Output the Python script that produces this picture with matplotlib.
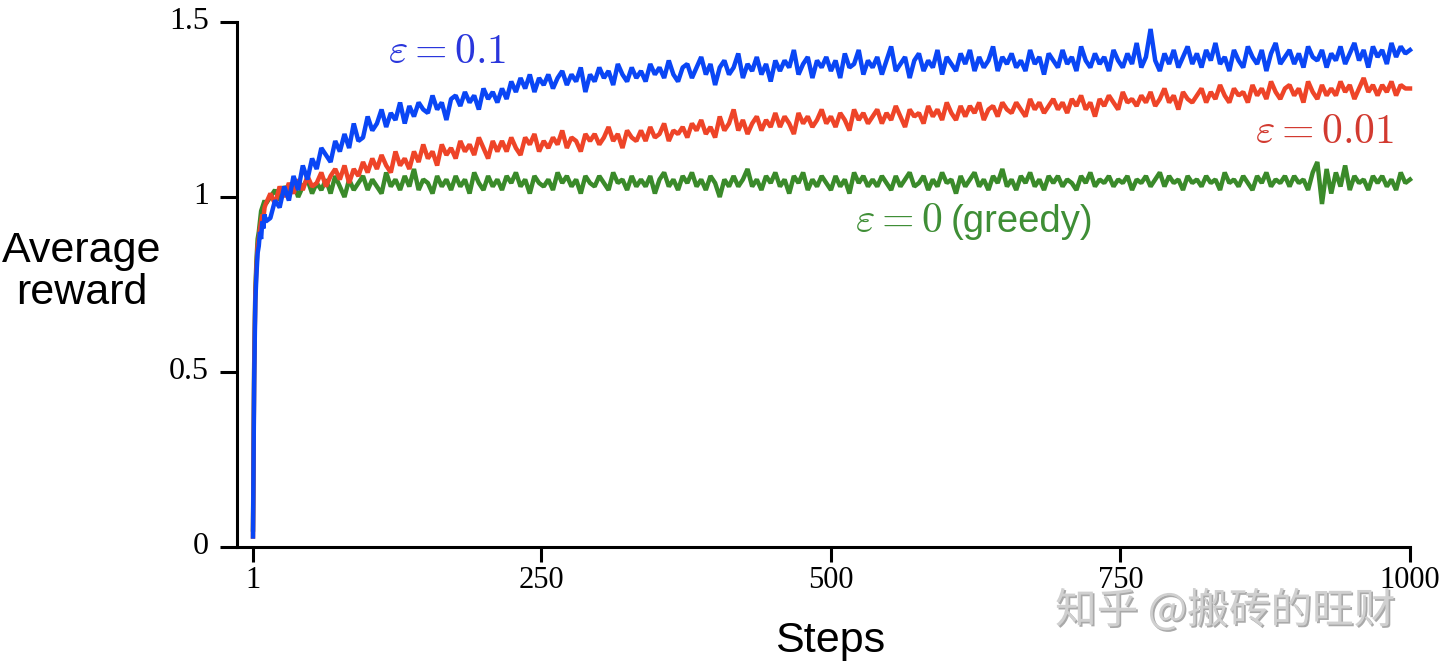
import matplotlib
matplotlib.use("Agg")
import matplotlib.pyplot as plt
import matplotlib.patheffects as pe
import matplotlib.transforms as mtransforms

# ---------------- data ----------------
early_steps = [1, 2, 3, 4, 5, 6, 7, 8, 9, 10, 11, 12]
late_steps = list(range(16, 1001, 4))
steps = early_steps + late_steps

blue_early = [0.03, 0.47, 0.70, 0.78, 0.84, 0.86, 0.90, 0.88, 0.93, 0.91, 0.95, 0.93]
red_early = [0.03, 0.50, 0.72, 0.80, 0.86, 0.88, 0.91, 0.93, 0.95, 0.94, 0.97, 0.98]
green_early = [0.05, 0.52, 0.73, 0.82, 0.88, 0.90, 0.93, 0.96, 0.97, 0.98, 0.99, 0.98]

blue_late = [
    0.94, 0.99, 0.97, 1.03, 0.99, 1.06, 1.02, 1.09, 1.05, 1.11,
    1.08, 1.14, 1.12, 1.10, 1.16, 1.13, 1.18, 1.14, 1.21, 1.16,
    1.17, 1.23, 1.19, 1.21, 1.25, 1.20, 1.24, 1.22, 1.27, 1.21,
    1.26, 1.23, 1.27, 1.25, 1.24, 1.29, 1.25, 1.27, 1.22, 1.28,
    1.29, 1.26, 1.30, 1.27, 1.29, 1.25, 1.31, 1.28, 1.30, 1.27,
    1.31, 1.28, 1.33, 1.30, 1.34, 1.31, 1.35, 1.30, 1.34, 1.32,
    1.35, 1.31, 1.34, 1.36, 1.32, 1.35, 1.33, 1.37, 1.30, 1.35,
    1.33, 1.37, 1.34, 1.36, 1.32, 1.38, 1.35, 1.33, 1.37, 1.34,
    1.36, 1.33, 1.38, 1.35, 1.37, 1.34, 1.39, 1.35, 1.33, 1.37,
    1.38, 1.34, 1.37, 1.40, 1.35, 1.38, 1.32, 1.37, 1.39, 1.35,
    1.37, 1.41, 1.34, 1.38, 1.36, 1.40, 1.35, 1.38, 1.33, 1.39,
    1.36, 1.39, 1.37, 1.42, 1.35, 1.38, 1.40, 1.34, 1.39, 1.37,
    1.40, 1.36, 1.39, 1.34, 1.41, 1.37, 1.38, 1.42, 1.35, 1.39,
    1.37, 1.40, 1.35, 1.39, 1.43, 1.36, 1.38, 1.40, 1.34, 1.39,
    1.41, 1.36, 1.39, 1.37, 1.42, 1.35, 1.40, 1.38, 1.36, 1.41,
    1.38, 1.42, 1.36, 1.40, 1.37, 1.39, 1.43, 1.36, 1.40, 1.38,
    1.41, 1.37, 1.39, 1.36, 1.42, 1.38, 1.40, 1.35, 1.41, 1.39,
    1.37, 1.42, 1.38, 1.40, 1.36, 1.43, 1.39, 1.37, 1.41, 1.38,
    1.40, 1.36, 1.42, 1.39, 1.37, 1.41, 1.38, 1.44, 1.37, 1.40,
    1.48, 1.39, 1.36, 1.41, 1.38, 1.42, 1.37, 1.40, 1.43, 1.38,
    1.41, 1.37, 1.42, 1.39, 1.44, 1.38, 1.40, 1.36, 1.42, 1.39,
    1.37, 1.43, 1.40, 1.38, 1.42, 1.36, 1.41, 1.44, 1.38, 1.40,
    1.42, 1.38, 1.41, 1.37, 1.43, 1.40, 1.39, 1.42, 1.37, 1.41,
    1.39, 1.43, 1.38, 1.41, 1.44, 1.39, 1.42, 1.37, 1.43, 1.40,
    1.42, 1.38, 1.44, 1.40, 1.43, 1.41, 1.42,
]

red_late = [
    1.01, 0.98, 1.03, 1.00, 1.04, 1.01, 1.05, 1.02, 1.06, 1.03,
    1.04, 1.07, 1.03, 1.06, 1.08, 1.05, 1.09, 1.04, 1.08, 1.06,
    1.10, 1.07, 1.11, 1.08, 1.12, 1.09, 1.07, 1.13, 1.09, 1.11,
    1.08, 1.13, 1.10, 1.15, 1.11, 1.13, 1.09, 1.15, 1.12, 1.14,
    1.11, 1.16, 1.13, 1.15, 1.12, 1.17, 1.14, 1.11, 1.16, 1.13,
    1.16, 1.13, 1.17, 1.14, 1.12, 1.17, 1.15, 1.18, 1.13, 1.16,
    1.14, 1.17, 1.15, 1.19, 1.14, 1.17, 1.16, 1.13, 1.18, 1.16,
    1.18, 1.15, 1.17, 1.20, 1.16, 1.18, 1.14, 1.19, 1.17, 1.16,
    1.19, 1.16, 1.20, 1.17, 1.18, 1.21, 1.16, 1.19, 1.18, 1.20,
    1.17, 1.21, 1.19, 1.22, 1.18, 1.20, 1.17, 1.23, 1.19, 1.21,
    1.25, 1.19, 1.22, 1.18, 1.21, 1.23, 1.19, 1.22, 1.20, 1.24,
    1.20, 1.23, 1.21, 1.18, 1.24, 1.21, 1.23, 1.20, 1.22, 1.25,
    1.21, 1.23, 1.20, 1.24, 1.22, 1.19, 1.25, 1.22, 1.24, 1.21,
    1.23, 1.25, 1.21, 1.24, 1.22, 1.26, 1.23, 1.20, 1.25, 1.23,
    1.24, 1.21, 1.26, 1.23, 1.25, 1.22, 1.27, 1.24, 1.22, 1.26,
    1.23, 1.26, 1.24, 1.27, 1.22, 1.25, 1.26, 1.23, 1.27, 1.25,
    1.24, 1.27, 1.25, 1.23, 1.28, 1.25, 1.27, 1.24, 1.26, 1.28,
    1.25, 1.27, 1.24, 1.28, 1.26, 1.29, 1.25, 1.27, 1.23, 1.28,
    1.26, 1.29, 1.27, 1.25, 1.30, 1.27, 1.28, 1.26, 1.29, 1.27,
    1.30, 1.26, 1.28, 1.31, 1.27, 1.29, 1.25, 1.30, 1.28, 1.27,
    1.29, 1.31, 1.27, 1.30, 1.28, 1.32, 1.29, 1.27, 1.31, 1.29,
    1.30, 1.27, 1.32, 1.29, 1.31, 1.28, 1.33, 1.30, 1.28, 1.31,
    1.32, 1.29, 1.31, 1.27, 1.33, 1.30, 1.28, 1.32, 1.29, 1.31,
    1.29, 1.33, 1.30, 1.32, 1.28, 1.31, 1.34, 1.30, 1.32, 1.29,
    1.32, 1.30, 1.33, 1.29, 1.32, 1.31, 1.31,
]

green_late = [
    1.00, 1.02, 0.99, 1.03, 1.01, 1.04, 1.00, 1.03, 1.05, 1.01,
    1.04, 1.02, 1.05, 1.01, 1.06, 1.03, 1.00, 1.05, 1.02, 1.04,
    1.06, 1.02, 1.05, 1.03, 1.01, 1.07, 1.03, 1.05, 1.02, 1.06,
    1.03, 1.08, 1.02, 1.05, 1.04, 1.01, 1.06, 1.03, 1.05, 1.02,
    1.06, 1.03, 1.05, 1.01, 1.07, 1.04, 1.02, 1.06, 1.03, 1.05,
    1.02, 1.06, 1.04, 1.07, 1.03, 1.05, 1.01, 1.06, 1.04, 1.03,
    1.05, 1.02, 1.07, 1.04, 1.06, 1.03, 1.05, 1.01, 1.06, 1.04,
    1.03, 1.06, 1.04, 1.02, 1.07, 1.04, 1.05, 1.02, 1.06, 1.03,
    1.05, 1.03, 1.06, 1.01, 1.05, 1.07, 1.03, 1.05, 1.02, 1.06,
    1.04, 1.07, 1.03, 1.05, 1.02, 1.06, 1.04, 1.00, 1.05, 1.03,
    1.06, 1.03, 1.05, 1.08, 1.03, 1.05, 1.02, 1.06, 1.04, 1.07,
    1.03, 1.05, 1.01, 1.06, 1.04, 1.07, 1.02, 1.05, 1.03, 1.06,
    1.04, 1.02, 1.06, 1.03, 1.05, 1.01, 1.07, 1.04, 1.06, 1.03,
    1.05, 1.03, 1.06, 1.04, 1.02, 1.06, 1.03, 1.05, 1.07, 1.03,
    1.04, 1.06, 1.02, 1.05, 1.03, 1.07, 1.04, 1.05, 1.01, 1.06,
    1.03, 1.05, 1.07, 1.03, 1.05, 1.02, 1.06, 1.04, 1.08, 1.03,
    1.05, 1.02, 1.06, 1.04, 1.07, 1.03, 1.05, 1.02, 1.06, 1.04,
    1.06, 1.03, 1.05, 1.04, 1.02, 1.06, 1.04, 1.07, 1.03, 1.05,
    1.04, 1.06, 1.03, 1.05, 1.04, 1.06, 1.02, 1.05, 1.04, 1.06,
    1.03, 1.05, 1.07, 1.03, 1.06, 1.04, 1.05, 1.02, 1.06, 1.04,
    1.05, 1.03, 1.06, 1.04, 1.05, 1.02, 1.07, 1.04, 1.05, 1.03,
    1.06, 1.04, 1.02, 1.06, 1.04, 1.07, 1.03, 1.05, 1.04, 1.06,
    1.03, 1.06, 1.04, 1.05, 1.02, 1.07, 1.10, 0.98, 1.08, 1.01,
    1.07, 1.03, 1.09, 1.02, 1.06, 1.04, 1.05, 1.02, 1.06, 1.04,
    1.06, 1.03, 1.05, 1.02, 1.07, 1.04, 1.05,
]

eps_greedy_01 = blue_early + blue_late
eps_greedy_001 = red_early + red_late
greedy = green_early + green_late

x_ticks = [1, 250, 500, 750, 1000]
x_ticklabels = ["1", "250", "500", "750", "1000"]
y_ticks = [0, 0.5, 1, 1.5]
y_ticklabels = ["0", "0.5", "1", "1.5"]

# ---------------- style ----------------
plt.rcParams["mathtext.fontset"] = "cm"
W, H = 1440, 664
fig = plt.figure(figsize=(W / 100, H / 100), dpi=100)

def fx(px):
    return px / W

def fy(py):
    return 1 - py / H

ax_left, ax_right, ax_top, ax_bottom = 237, 1410, 22, 547
ax = fig.add_axes([fx(ax_left), fy(ax_bottom), (ax_right - ax_left) / W, (ax_bottom - ax_top) / H])

c_blue = "#0a46f5"
c_red = "#ee4428"
c_green = "#3a8a2a"

lw = 3.2
kw = dict(lw=lw, clip_on=False, solid_joinstyle="bevel")
ax.plot(steps, greedy, color=c_green, **kw)
ax.plot(steps, eps_greedy_001, color=c_red, **kw)
ax.plot(steps, eps_greedy_01, color=c_blue, **kw)

ax.set_xlim(1 - 16 / 1.1582, 1000)
ax.set_ylim(0, 1.5)
for s in ["top", "right"]:
    ax.spines[s].set_visible(False)
for s in ["left", "bottom"]:
    ax.spines[s].set_linewidth(2.2)
    ax.spines[s].set_color("black")

ax.set_xticks(x_ticks)
ax.set_xticklabels(x_ticklabels)
ax.set_yticks(y_ticks)
ax.set_yticklabels(y_ticklabels)
ax.tick_params(axis="both", direction="out", width=2.2, colors="black", labelsize=22)
ax.tick_params(axis="y", length=12, pad=8, labelsize=23)
ax.tick_params(axis="x", length=11, pad=3)
for lab in ax.get_xticklabels() + ax.get_yticklabels():
    lab.set_fontfamily("Liberation Serif")
shift_up = mtransforms.ScaledTranslation(0, 0.04, fig.dpi_scale_trans)
for lab in ax.get_yticklabels():
    lab.set_transform(lab.get_transform() + shift_up)

# axis labels
fig.text(fx(82), fy(272), "Average\nreward", ha="center", va="center",
         fontsize=31, family="Liberation Sans", linespacing=1.05, multialignment="center")
fig.text(fx(830), fy(652), "Steps", ha="center", va="baseline",
         fontsize=31, family="Liberation Sans")

# series labels
fig.text(fx(388), fy(63), r"$\varepsilon = 0.1$", color="#2a36dc", fontsize=30,
         ha="left", va="baseline")
fig.text(fx(1255), fy(143), r"$\varepsilon = 0.01$", color="#d23a30", fontsize=30,
         ha="left", va="baseline")
fig.text(fx(855), fy(232), r"$\varepsilon = 0$", color="#3f8e36", fontsize=30,
         ha="left", va="baseline")
fig.text(fx(951), fy(232), "(greedy)", color="#3f8e36", fontsize=27.5,
         ha="left", va="baseline", family="Liberation Sans")

# watermark
fig.text(fx(1055), fy(623), "知乎 @搬砖的旺财", color="#d0d0d0", fontsize=30,
         ha="left", va="baseline", family=["Noto Sans CJK SC", "DejaVu Sans"],
         path_effects=[pe.withSimplePatchShadow(offset=(1.2, -1.2), shadow_rgbFace="#707070", alpha=0.6)])

fig.savefig("out.png", dpi=100)
